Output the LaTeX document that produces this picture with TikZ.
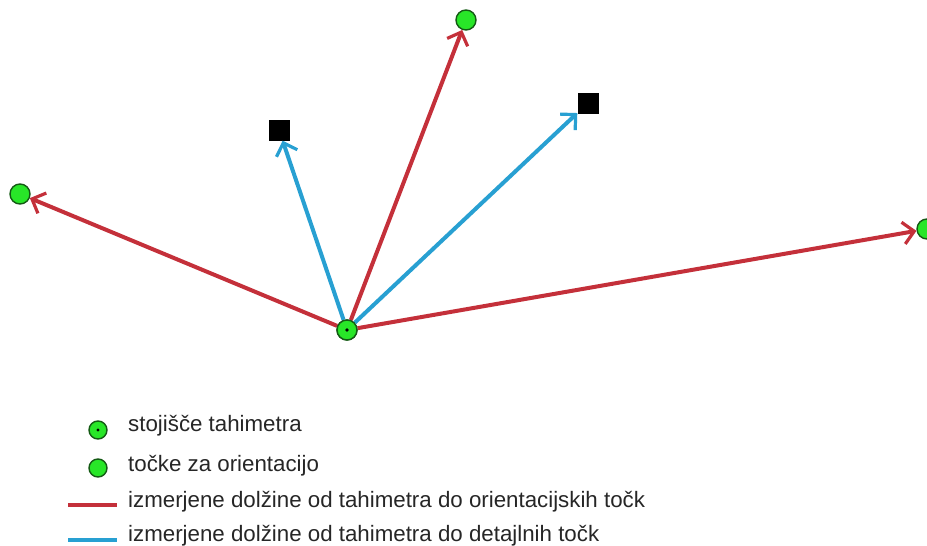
\documentclass[tikz,border=0pt]{standalone}
\usepackage{fontspec}
\setmainfont{Liberation Sans}
\usetikzlibrary{arrows.meta}
\definecolor{measred}{RGB}{196,48,58}
\definecolor{measblue}{RGB}{40,160,210}
\definecolor{ptgreen}{RGB}{40,230,40}
\definecolor{ptedge}{RGB}{20,90,20}
\tikzset{
  x=1pt, y=-1pt,
  orient/.style={circle, fill=ptgreen, draw=ptedge, line width=1.4pt, minimum size=20pt, inner sep=0pt},
  station/.style={orient},
  detail/.style={rectangle, fill=black, minimum size=21pt, inner sep=0pt},
  tip/.style={-{Straight Barb[length=11pt,width=22pt,line width=3.2pt]}},
  redline/.style={draw=measred, line width=4pt, tip},
  blueline/.style={draw=measblue, line width=4pt, tip},
  legtext/.style={anchor=west, font=\fontsize{22.3}{26}\selectfont, text=black!85, inner sep=0pt}
}
\begin{document}
\begin{tikzpicture}
\useasboundingbox (0,0) rectangle (927,546);
% target points
\node[orient] (o1) at (20,194) {};
\node[orient] (o2) at (466,20) {};
\node[orient] (o3) at (927,229) {};
\node[detail] (d1) at (279,130) {};
\node[detail] (d2) at (588,103) {};
% station position (used by the connectors, redrawn on top)
\coordinate (stc) at (347,330);
\node[station] (st) at (stc) {};
% measured distances
\draw[redline] (st) -- (o1);
\draw[redline] (st) -- (o2);
\draw[redline] (st) -- (o3);
\draw[blueline] (st) -- (d1);
\draw[blueline] (st) -- (d2);
\node[station] (st2) at (stc) {};
\fill[black] (st2.center) circle (1.8pt);
% legend
\node[station, minimum size=18pt] (ls) at (98,430) {};
\fill[black] (ls.center) circle (1.6pt);
\node[legtext] (t1) at (128,426) {stojišče tahimetra};
\node[orient, minimum size=18pt] (lo) at (98,468) {};
\node[legtext] (t2) at (128,466) {točke za orientacijo};
\coordinate (r1) at (68,505);
\coordinate (r2) at (117,505);
\draw[measred, line width=4.5pt] (r1) -- (r2);
\node[legtext] (t3) at (128,502) {izmerjene dolžine od tahimetra do orientacijskih točk};
\coordinate (b1) at (68,540);
\coordinate (b2) at (117,540);
\draw[measblue, line width=4.5pt] (b1) -- (b2);
\node[legtext] (t4) at (128,536) {izmerjene dolžine od tahimetra do detajlnih točk};
\end{tikzpicture}
\end{document}
